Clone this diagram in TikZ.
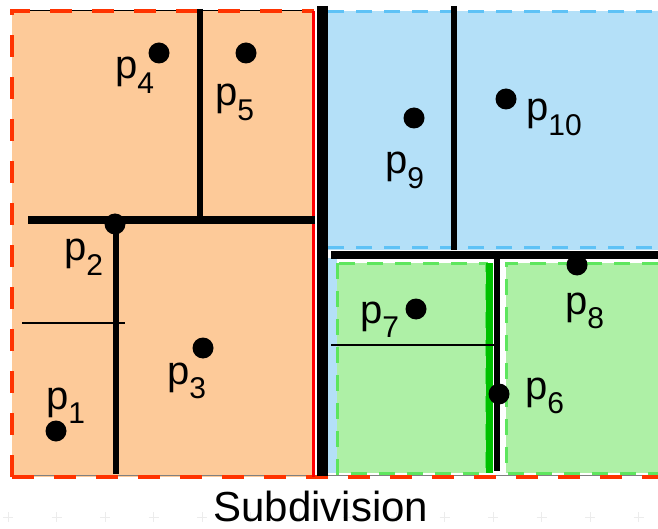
\documentclass[tikz,border=0pt]{standalone}
\usepackage{fontspec}
\setmainfont{Liberation Sans}
\usetikzlibrary{positioning}

\definecolor{peachfill}{HTML}{FDCA99}
\definecolor{reddash}{HTML}{FF3300}
\definecolor{skyfill}{HTML}{B4E0F8}
\definecolor{skydash}{HTML}{5EC2F6}
\definecolor{mintfill}{HTML}{AEF0A6}
\definecolor{mintdash}{HTML}{5EE65E}
\definecolor{greenbar}{HTML}{00C000}

\newcommand{\psub}[1]{p\raisebox{-0.36em}{\fontsize{30}{30}\selectfont #1}}

\begin{document}
\begin{tikzpicture}[
        x=1pt, y=-1pt,
        ptdot/.style={circle, fill=black, minimum size=21pt, inner sep=0pt},
        ptlabel/.style={anchor=base west, inner sep=0pt, font=\fontsize{40}{42}\selectfont},
        cutthick/.style={line width=8pt, black},
        cutmid/.style={line width=5.5pt, black},
        cutthin/.style={line width=2.5pt, black},
        orangeborder/.style={reddash, line width=4pt, dash pattern=on 22pt off 20pt},
        blueborder/.style={skydash, line width=3pt, dash pattern=on 16pt off 12pt},
        greenborder/.style={mintdash, line width=3pt, dash pattern=on 16pt off 12pt},
    ]
        \useasboundingbox (0,0) rectangle (658,529);

        % Faint grid marks (bottom)
        \foreach \gx in {8,56.5,...,650}
            \draw[gray!15, line width=1pt] (\gx-5,517) -- (\gx+5,517) (\gx,512) -- (\gx,522);

        % Orange region
        \fill[peachfill] (12,11) rectangle (314,477);
        \draw[black, line width=0.6pt] (12,10) -- (314,10);
        \draw[orangeborder] (12,477) -- (12,11) -- (314,11);
        \draw[gray, line width=0.8pt] (12,475) -- (658,475);
        \draw[orangeborder] (12,477) -- (658,477);

        % Blue region
        \fill[skyfill] (328,11) rectangle (658,250);
        \fill[skyfill] (328,258) rectangle (337,473);
        \draw[blueborder] (328,12) -- (658,12);
        \draw[blueborder] (328,248) -- (658,248);

        % Green regions
        \fill[mintfill] (337,263) rectangle (486,473);
        \fill[mintfill] (506,263) rectangle (658,473);
        \draw[greenborder] (337,263) rectangle (486,473);
        \draw[greenborder] (658,263) -- (506,263) -- (506,473) -- (658,473);

        % Splitting lines
        \draw[red, line width=3pt] (313,11) -- (313,477);
        \draw[black, line width=11pt] (322,6) -- (322,476);
        \draw[cutmid] (454,6) -- (454,250);
        \draw[cutthick] (331,255) -- (658,255);
        \draw[greenbar, line width=7pt] (489.5,263) -- (489.5,473);
        \draw[cutmid] (497,258) -- (497,471);
        \draw[cutthin] (331,345) -- (495,345);
        \draw[cutthick] (28,220) -- (315,220);
        \draw[cutmid] (200,9) -- (200,216);
        \draw[cutmid] (116,220) -- (116,474);
        \draw[cutthin] (22,323) -- (125,323);

        % Points
        \node[ptdot] (d1) at (56,431) {};
        \node[ptdot] (d2) at (115,224) {};
        \node[ptdot] (d3) at (203,348) {};
        \node[ptdot] (d4) at (159,53) {};
        \node[ptdot] (d5) at (246,53) {};
        \node[ptdot] (d6) at (499,394) {};
        \node[ptdot] (d7) at (416,309) {};
        \node[ptdot] (d8) at (577,265) {};
        \node[ptdot] (d9) at (414,118) {};
        \node[ptdot] (d10) at (506,99) {};

        % Point labels
        \node[ptlabel] (l1) at (46,409) {\psub{1}};
        \node[ptlabel] (l2) at (64,261) {\psub{2}};
        \node[ptlabel] (l3) at (167,384) {\psub{3}};
        \node[ptlabel] (l4) at (115,79) {\psub{4}};
        \node[ptlabel] (l5) at (215,106) {\psub{5}};
        \node[ptlabel] (l6) at (525,399) {\psub{6}};
        \node[ptlabel] (l7) at (360,323) {\psub{7}};
        \node[ptlabel] (l8) at (565,314) {\psub{8}};
        \node[ptlabel] (l9) at (385,174) {\psub{9}};
        \node[ptlabel] (l10) at (526,121) {\psub{10}};

        % Caption
        \node[anchor=base, inner sep=0pt, font=\fontsize{42}{44}\selectfont] (caption) at (321,521) {Subdivision};
    \end{tikzpicture}
\end{document}
